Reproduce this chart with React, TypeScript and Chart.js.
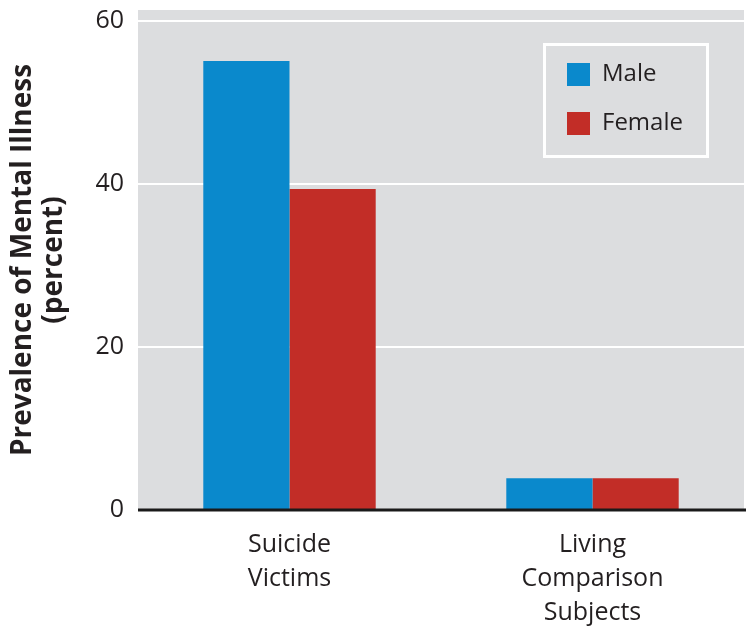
import React, { useEffect, useRef } from 'react';
import { Chart, registerables } from 'chart.js';

Chart.register(...registerables);

const categories: string[][] = [['Suicide', 'Victims'], ['Living', 'Comparison', 'Subjects']];
const seriesNames = ['Male', 'Female'];
const maleValues = [55.1, 3.9];
const femaleValues = [39.4, 3.9];
const yTicks = [0, 20, 40, 60];
const yTitle = ['Prevalence of Mental Illness', '(percent)'];

const FONT = '"Open Sans", Lato, sans-serif';
const TEXT = '#231f20';
const BLUE = '#0a89cc';
const RED = '#c22d27';
const PANEL = '#dcdddf';

const panelPlugin = {
  id: 'panelBg',
  beforeDraw(chart: any) {
    const { ctx, chartArea } = chart;
    ctx.save();
    ctx.fillStyle = PANEL;
    ctx.fillRect(chartArea.left, chartArea.top, chartArea.right - chartArea.left, chartArea.bottom - chartArea.top);
    ctx.restore();
  },
};

const baselinePlugin = {
  id: 'baseline',
  afterDatasetsDraw(chart: any) {
    const { ctx, chartArea, scales } = chart;
    const y = scales.y.getPixelForValue(0);
    ctx.save();
    ctx.strokeStyle = '#1a1a1a';
    ctx.lineWidth = 3;
    ctx.beginPath();
    ctx.moveTo(chartArea.left, y);
    ctx.lineTo(chartArea.right + 2, y);
    ctx.stroke();
    ctx.restore();
  },
};

const legendPlugin = {
  id: 'boxLegend',
  afterDraw(chart: any) {
    const { ctx, chartArea } = chart;
    const bx = chartArea.right - 199.5;
    const by = chartArea.top + 34.5;
    ctx.save();
    ctx.strokeStyle = '#ffffff';
    ctx.lineWidth = 3;
    ctx.strokeRect(bx, by, 163, 112);
    chart.data.datasets.forEach((ds: any, i: number) => {
      const sy = chartArea.top + 53 + i * 49;
      ctx.fillStyle = ds.backgroundColor;
      ctx.fillRect(bx + 22.5, sy, 23, 23);
      ctx.fillStyle = TEXT;
      ctx.font = `24px ${FONT}`;
      ctx.textBaseline = 'middle';
      ctx.textAlign = 'left';
      ctx.fillText(ds.label, bx + 57.5, sy + 11);
    });
    ctx.restore();
  },
};

export default function App() {
  const ref = useRef<HTMLCanvasElement | null>(null);
  useEffect(() => {
    if (!ref.current) return;
    const chart = new Chart(ref.current, {
      type: 'bar',
      data: {
        labels: categories as any,
        datasets: [
          { label: seriesNames[0], data: maleValues, backgroundColor: BLUE, borderWidth: 0 },
          { label: seriesNames[1], data: femaleValues, backgroundColor: RED, borderWidth: 0 },
        ],
      },
      options: {
        animation: false,
        responsive: false,
        layout: { padding: { top: 10, right: 10, left: 0, bottom: 0 } },
        datasets: { bar: { categoryPercentage: 0.569, barPercentage: 1 } },
        plugins: { legend: { display: false }, tooltip: { enabled: false } },
        scales: {
          x: {
            type: 'category',
            grid: { display: false },
            border: { display: false },
            ticks: {
              color: TEXT,
              font: { family: FONT, size: 25, lineHeight: 1.36 },
              padding: 10,
              maxRotation: 0,
              autoSkip: false,
            },
            afterFit(scale: any) {
              scale.height = 122;
              scale.paddingLeft = 0;
              scale.paddingRight = 0;
            },
          },
          y: {
            min: 0,
            max: 61.35,
            afterBuildTicks(scale: any) {
              scale.ticks = yTicks.map((v) => ({ value: v }));
            },
            grid: {
              color: (c: any) => (c.tick && c.tick.value === 0 ? 'rgba(0,0,0,0)' : '#ffffff'),
              lineWidth: 2,
              drawTicks: false,
            },
            border: { display: false },
            ticks: {
              color: TEXT,
              font: { family: FONT, size: 25 },
              padding: 14,
            },
            title: {
              display: true,
              text: yTitle,
              color: TEXT,
              font: { family: FONT, size: 28, weight: 'bold', lineHeight: 1.1 },
              padding: { top: 8, bottom: 0 },
            },
            afterFit(scale: any) {
              scale.width = 138;
              scale.paddingTop = 0;
              scale.paddingBottom = 0;
            },
          },
        },
      },
      plugins: [panelPlugin, baselinePlugin, legendPlugin],
    });
    return () => chart.destroy();
  }, []);
  return (
    <div style={{ position: 'absolute', left: 0, top: 0, width: 754, height: 632, background: '#ffffff' }}>
      <canvas ref={ref} width={754} height={632} />
    </div>
  );
}
